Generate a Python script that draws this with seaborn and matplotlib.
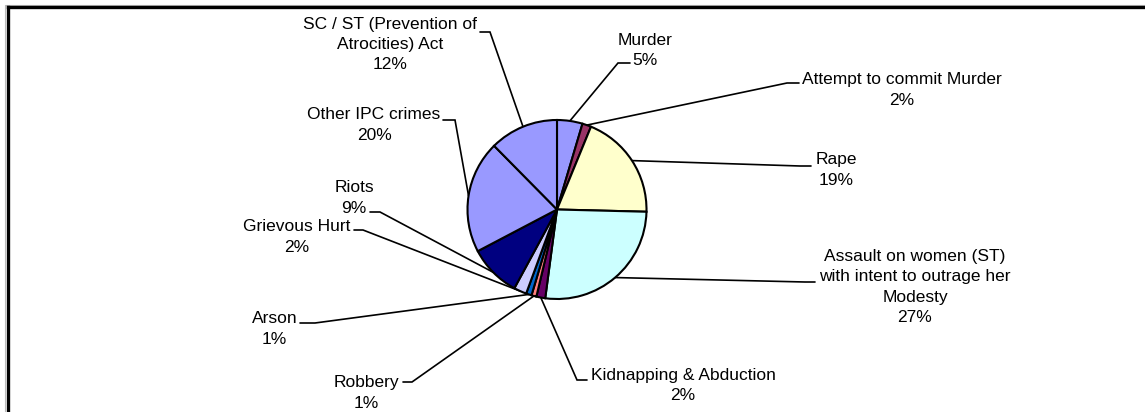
import numpy as np
import matplotlib
matplotlib.use("Agg")
import matplotlib.pyplot as plt
from matplotlib.lines import Line2D
import seaborn as sns

# ---- data ----
categories = ["Murder", "Attempt to commit Murder", "Rape",
              "Assault on women (ST)\nwith intent to outrage her\nModesty",
              "Kidnapping & Abduction", "Robbery", "Arson", "Grievous Hurt",
              "Riots", "Other IPC crimes", "SC / ST (Prevention of\nAtrocities) Act"]
values = [4.6, 1.6, 19.2, 26.7, 1.6, 0.9, 1.0, 2.3, 9.4, 20.3, 12.4]
colors = ["#9999FF", "#993366", "#FFFFCC", "#CCFFFF", "#660066", "#FF8080",
          "#0066CC", "#CCCCFF", "#000080", "#9999FF", "#9999FF"]

# ---- layout (image pixel coords, y downward) ----
W, H = 1145, 412
CX, CY, R = 557, 209.5, 89.5
text_pos = [(645, 50.5), (902, 90), (836, 170), (915, 287), (683, 385.5),
            (366.5, 393), (274.5, 329), (296.5, 237), (354, 198), (374, 125),
            (390, 44.5)]
elbows = [(618, 63), (787, 83), (800, 166), (805, 282), (577, 380),
          (412, 382), (315, 323), (363, 230), (380, 212), (455, 120),
          (490, 32)]
anchors = [(630, 63), (799, 83), (811, 166), (815, 282), (587, 380),
           (403, 382), (300, 323), (354, 230), (370, 212), (443, 120),
           (480, 32)]

sns.set_theme(style="white")
plt.rcParams["font.family"] = ["Liberation Sans", "DejaVu Sans"]

fig = plt.figure(figsize=(W / 100, H / 100), dpi=100)
ax = fig.add_axes([0, 0, 1, 1])

def Y(y):
    return H - y

wedges, _ = ax.pie(values, colors=colors, startangle=90, counterclock=False,
                   center=(CX, Y(CY)), radius=R, frame=True,
                   wedgeprops=dict(edgecolor="black", linewidth=1.5))
ax.set_xlim(0, W)
ax.set_ylim(0, H)
ax.set_aspect("auto")
ax.axis("off")

total = sum(values)
for i, (w, name, v) in enumerate(zip(wedges, categories, values)):
    mid = np.deg2rad((w.theta1 + w.theta2) / 2)
    rx = CX + R * np.cos(mid)
    ry = Y(CY) + R * np.sin(mid)
    ex, ey = elbows[i]
    axx, ayy = anchors[i]
    ax.plot([rx, ex, axx], [ry, Y(ey), Y(ayy)], color="black", lw=1.2,
            solid_joinstyle="miter", zorder=0.5)
    tx, ty = text_pos[i]
    ax.text(tx, Y(ty), f"{name}\n{round(v / total * 100)}%", ha="center",
            va="center", multialignment="center", fontsize=12.5,
            linespacing=1.45, color="black")

# chart area frame (top & left visible)
fig.add_artist(Line2D([5 / W, 1], [1 - 4.5 / H, 1 - 4.5 / H], transform=fig.transFigure,
                      color="#bbbbbb", lw=0.8))
fig.add_artist(Line2D([5 / W, 5 / W], [0, 1 - 4.5 / H], transform=fig.transFigure,
                      color="#bbbbbb", lw=0.8))
fig.add_artist(Line2D([7.5 / W, 1], [1 - 7 / H, 1 - 7 / H], transform=fig.transFigure,
                      color="black", lw=2.4, solid_capstyle="projecting"))
fig.add_artist(Line2D([7.5 / W, 7.5 / W], [0, 1 - 7 / H], transform=fig.transFigure,
                      color="black", lw=2.4, solid_capstyle="projecting"))

fig.savefig("out.png", dpi=100, facecolor="white")
